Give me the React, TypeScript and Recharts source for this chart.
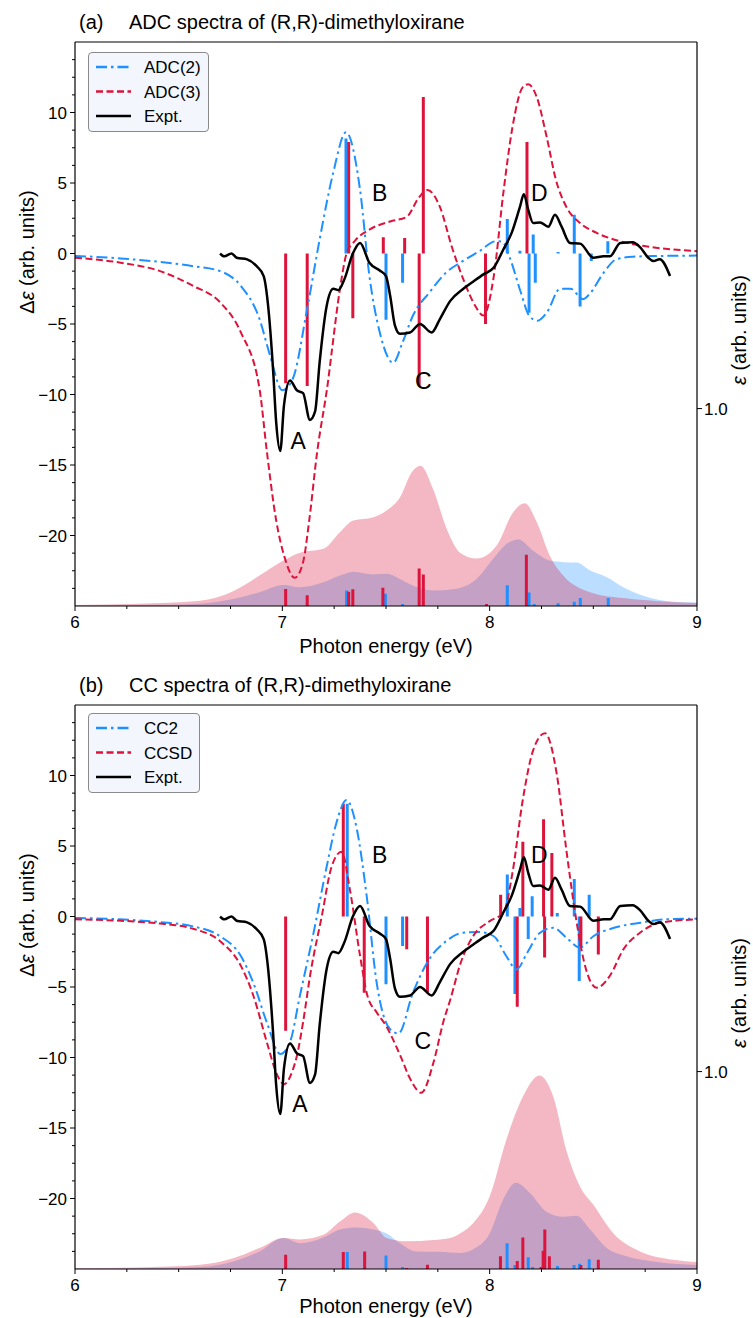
import React from 'react';
import { ComposedChart, Line, Area, XAxis, YAxis, ReferenceLine, ReferenceDot } from 'recharts';

const BLUE = '#1e90ff';
const RED = '#dc143c';
const FONT = "'Liberation Sans', Arial, Helvetica, sans-serif";

// axis ticks
const xTicks = [6, 6.25, 6.5, 6.75, 7, 7.25, 7.5, 7.75, 8, 8.25, 8.5, 8.75, 9];
const yTicks = [-23.75, -22.5, -21.25, -20, -18.75, -17.5, -16.25, -15, -13.75, -12.5, -11.25, -10, -8.75, -7.5, -6.25, -5,
  -3.75, -2.5, -1.25, 0, 1.25, 2.5, 3.75, 5, 6.25, 7.5, 8.75, 10, 11.25, 12.5, 13.75];
const rightTicks = [1];

// experiment (same in both panels)
const exptE = [6.7, 6.72, 6.755, 6.78, 6.83, 6.876, 6.91, 6.93, 6.956, 6.97, 6.99, 7.008, 7.037, 7.07, 7.1, 7.133, 7.158, 7.18, 7.214, 7.246,
  7.27, 7.3, 7.34, 7.375, 7.42, 7.47, 7.5, 7.52, 7.543, 7.567, 7.616, 7.664, 7.72, 7.76, 7.81, 7.873, 7.92, 7.97, 8.02, 8.066,
  8.106, 8.146, 8.165, 8.186, 8.21, 8.243, 8.283, 8.315, 8.347, 8.387, 8.436, 8.5, 8.55, 8.58, 8.63, 8.69, 8.725, 8.765, 8.79, 8.82, 8.87];
const exptVal = [0.0, -0.2, 0.0, -0.3, -0.42, -0.9, -1.6, -3.5, -8.4, -11.9, -14.0, -10.75, -9.0, -9.7, -9.9, -11.8, -11.2, -7.7, -3.7, -2.5,
  -2.6, -1.8, 0.0, 0.75, -0.66, -1.2, -1.6, -3.0, -5.1, -5.7, -5.6, -5.0, -5.6, -4.65, -3.36, -2.5, -2.0, -1.48, -1.0, 0.28,
  1.46, 3.3, 4.2, 3.1, 2.16, 2.2, 1.9, 2.75, 1.9, 0.75, 0.7, -0.3, -0.2, -0.2, 0.75, 0.8, 0.45, -0.3, -0.54, -0.4, -1.6];

// (a) ADC curves
const adc2E = [6.0, 6.22, 6.41, 6.57, 6.7, 6.8, 6.89, 6.94, 7.0, 7.05, 7.12, 7.18, 7.245, 7.307, 7.375, 7.42, 7.47, 7.535, 7.58, 7.63,
  7.71, 7.79, 7.87, 7.95, 8.03, 8.06, 8.1, 8.15, 8.19, 8.23, 8.275, 8.34, 8.39, 8.45, 8.48, 8.55, 8.61, 8.69, 8.8, 9.0];
const adc2Val = [-0.17, -0.35, -0.6, -0.9, -1.25, -2.3, -4.65, -7.2, -9.7, -8.9, -3.9, 1.0, 5.7, 8.6, 4.5, -1.6, -5.6, -7.75, -6.3, -4.4,
  -2.75, -1.35, -0.54, 0.16, 0.87, 0.85, -0.42, -2.75, -4.4, -4.77, -4.2, -2.5, -2.5, -3.24, -2.9, -1.36, -0.42, -0.23, -0.18, -0.15];
const adc3E = [6.0, 6.22, 6.41, 6.57, 6.7, 6.8, 6.89, 6.925, 6.97, 7.01, 7.06, 7.1, 7.13, 7.166, 7.222, 7.238, 7.278, 7.31, 7.35, 7.42,
  7.52, 7.6, 7.66, 7.7, 7.76, 7.817, 7.873, 7.93, 7.97, 8.02, 8.066, 8.11, 8.16, 8.186, 8.227, 8.275, 8.32, 8.37, 8.436, 8.516,
  8.63, 8.76, 9.0];
const adc3Val = [-0.3, -0.65, -1.25, -2.3, -3.46, -5.6, -9.6, -14.0, -18.9, -21.5, -23.0, -21.9, -18.9, -14.3, -8.9, -7.0, -2.5, 0.0, 0.9, 1.7,
  2.27, 2.6, 4.0, 4.5, 3.3, 0.5, -1.83, -3.7, -4.4, -1.6, 4.3, 8.96, 11.8, 12.0, 11.1, 8.26, 5.2, 3.3, 2.16, 1.46,
  0.87, 0.5, 0.16];

// (a) sticks: rotatory strengths (top) and oscillator strengths (bottom)
const adc2RotE = [7.307, 7.5, 7.58, 8.085, 8.146, 8.19, 8.21, 8.22, 8.33, 8.408, 8.436, 8.49, 8.57];
const adc2Rot = [8.15, -4.7, -2.07, 2.44, 0.2, -4.2, 1.34, -2.07, 0.1, 2.75, -3.75, -0.54, 0.87];
const adc3RotE = [7.016, 7.12, 7.32, 7.34, 7.487, 7.59, 7.66, 7.68, 7.98, 8.18];
const adc3Rot = [-9.2, -9.4, 7.9, -4.6, 1.15, 1.1, -9.4, 11.1, -5.0, 7.9];
const adc2OscE = [7.31, 7.497, 7.58, 8.085, 8.19, 8.215, 8.33, 8.408, 8.437, 8.572];
const adc2Osc = [0.078, 0.062, 0.01, 0.105, 0.068, 0.01, 0.014, 0.022, 0.04, 0.04];
const adc3OscE = [7.016, 7.12, 7.32, 7.34, 7.485, 7.66, 7.68, 7.985, 8.177];
const adc3Osc = [0.086, 0.055, 0.072, 0.085, 0.093, 0.19, 0.16, 0.01, 0.26];

// (a) absorption envelopes
const adc2AbsE = [6.0, 6.4, 6.603, 6.763, 6.89, 7.005, 7.085, 7.198, 7.278, 7.342, 7.44, 7.503, 7.567, 7.616, 7.728, 7.825, 7.937, 8.018, 8.082, 8.138,
  8.21, 8.29, 8.355, 8.42, 8.484, 8.565, 8.645, 8.74, 8.886, 9.0];
const adc2Abs = [0.002, 0.006, 0.012, 0.036, 0.07, 0.107, 0.095, 0.12, 0.154, 0.174, 0.16, 0.163, 0.137, 0.11, 0.078, 0.085, 0.137, 0.24, 0.315, 0.337,
  0.28, 0.23, 0.222, 0.22, 0.18, 0.146, 0.095, 0.052, 0.022, 0.018];
const adc3AbsE = [6.0, 6.3, 6.603, 6.763, 6.89, 7.005, 7.085, 7.198, 7.278, 7.342, 7.44, 7.503, 7.567, 7.626, 7.666, 7.728, 7.793, 7.857, 7.937, 8.034,
  8.114, 8.17, 8.227, 8.29, 8.355, 8.484, 8.645, 8.8, 9.0];
const adc3Abs = [0.005, 0.012, 0.027, 0.075, 0.154, 0.23, 0.27, 0.29, 0.374, 0.433, 0.45, 0.484, 0.55, 0.68, 0.71, 0.59, 0.39, 0.27, 0.24, 0.306,
  0.476, 0.52, 0.425, 0.255, 0.154, 0.07, 0.04, 0.025, 0.015];

// (b) CC curves
const cc2E = [6.0, 6.41, 6.57, 6.7, 6.8, 6.86, 6.925, 6.99, 7.037, 7.085, 7.15, 7.214, 7.26, 7.31, 7.36, 7.407, 7.455, 7.52, 7.56, 7.63,
  7.71, 7.79, 7.87, 7.95, 8.02, 8.08, 8.13, 8.18, 8.243, 8.307, 8.37, 8.436, 8.5, 8.6, 8.725, 8.85, 9.0];
const cc2Val = [-0.1, -0.4, -0.7, -1.4, -2.8, -4.7, -7.5, -9.75, -8.9, -5.6, -1.2, 3.55, 6.6, 8.26, 6.15, 1.43, -4.7, -8.0, -8.3, -5.4,
  -3.0, -1.75, -1.15, -1.1, -1.4, -2.8, -3.75, -2.6, -1.15, -0.8, -1.5, -2.2, -1.4, -0.8, -0.45, -0.2, -0.15];
const ccsdE = [6.0, 6.41, 6.57, 6.7, 6.8, 6.86, 6.925, 6.97, 7.008, 7.05, 7.07, 7.1, 7.136, 7.19, 7.238, 7.286, 7.326, 7.375, 7.41, 7.455,
  7.5, 7.57, 7.616, 7.67, 7.73, 7.776, 7.81, 7.86, 7.92, 8.0, 8.066, 8.11, 8.16, 8.21, 8.267, 8.323, 8.37, 8.42, 8.46, 8.516,
  8.58, 8.645, 8.725, 8.82, 9.0];
const ccsdVal = [-0.2, -0.5, -0.87, -1.75, -3.5, -5.6, -8.9, -11.05, -11.9, -10.9, -9.9, -7.5, -4.0, 0.0, 3.55, 4.6, 1.9, -2.8, -5.6, -6.8,
  -7.75, -9.9, -11.5, -12.5, -10.3, -7.5, -5.9, -3.3, -1.4, -0.33, 0.26, 3.1, 8.3, 11.8, 13.0, 10.15, 4.7, -0.45, -3.5, -5.05,
  -4.2, -2.33, -1.15, -0.45, -0.2];

// (b) sticks
const cc2RotE = [7.313, 7.5, 7.58, 8.085, 8.122, 8.146, 8.186, 8.205, 8.326, 8.408, 8.432, 8.48];
const cc2Rot = [8.0, -4.8, -2.1, 2.97, -5.5, 0.6, -1.6, 1.43, 0.25, 2.66, -4.57, 1.55];
const ccsdRotE = [7.016, 7.294, 7.395, 7.6, 7.7, 8.053, 8.133, 8.16, 8.26, 8.265, 8.3, 8.44, 8.524];
const ccsdRot = [-8.1, 8.0, -5.4, -2.33, -5.4, 1.55, -6.4, 5.3, 6.9, -2.9, 4.5, -2.1, -2.7];
const cc2OscE = [7.313, 7.5, 7.58, 8.084, 8.122, 8.186, 8.207, 8.327, 8.407, 8.433, 8.48];
const cc2Osc = [0.086, 0.069, 0.01, 0.131, 0.02, 0.059, 0.01, 0.015, 0.02, 0.027, 0.05];
const ccsdOscE = [7.016, 7.294, 7.397, 7.6, 7.7, 8.052, 8.133, 8.16, 8.248, 8.258, 8.266, 8.288, 8.44, 8.524];
const ccsdOsc = [0.072, 0.086, 0.089, 0.005, 0.022, 0.064, 0.04, 0.16, 0.01, 0.093, 0.2, 0.064, 0.02, 0.047];

// (b) absorption envelopes
const cc2AbsE = [6.0, 6.4, 6.603, 6.763, 6.89, 7.005, 7.085, 7.198, 7.278, 7.36, 7.44, 7.503, 7.567, 7.647, 7.76, 7.857, 7.92, 8.0, 8.064, 8.127,
  8.195, 8.274, 8.355, 8.42, 8.484, 8.565, 8.66, 8.81, 9.0];
const cc2Abs = [0.002, 0.005, 0.01, 0.038, 0.089, 0.157, 0.131, 0.16, 0.2, 0.21, 0.2, 0.18, 0.131, 0.089, 0.087, 0.081, 0.1, 0.18, 0.35, 0.437,
  0.384, 0.29, 0.265, 0.27, 0.2, 0.106, 0.064, 0.035, 0.02];
const ccsdAbsE = [6.0, 6.3, 6.603, 6.763, 6.89, 7.005, 7.085, 7.198, 7.278, 7.35, 7.44, 7.503, 7.6, 7.73, 7.81, 7.857, 7.92, 8.0, 8.08, 8.16,
  8.24, 8.307, 8.37, 8.436, 8.5, 8.597, 8.725, 8.886, 9.0];
const ccsdAbs = [0.004, 0.008, 0.022, 0.055, 0.106, 0.157, 0.15, 0.173, 0.24, 0.286, 0.232, 0.157, 0.14, 0.147, 0.157, 0.18, 0.232, 0.367, 0.653, 0.872,
  0.98, 0.872, 0.6, 0.417, 0.325, 0.18, 0.089, 0.047, 0.035];

// peak letters
const labelsA = [{ t: 'A', x: 7.076, y: -13.3 }, { t: 'B', x: 7.47, y: 4.3 }, { t: 'C', x: 7.68, y: -9.0 }, { t: 'D', x: 8.24, y: 4.3 }];
const labelsB = [{ t: 'A', x: 7.085, y: -13.3 }, { t: 'B', x: 7.47, y: 4.4 }, { t: 'C', x: 7.677, y: -8.8 }, { t: 'D', x: 8.24, y: 4.4 }];

const curve = (xs: number[], ys: number[]) => xs.map((x, i) => ({ x, y: ys[i] }));
const sticks = (xs: number[], ys: number[]) => xs.flatMap((x, i) => [{ x, y: 0 }, { x, y: ys[i] }, { x, y: null }]);

const fmt = (v: number) => (v < 0 ? '\u2212' + Math.abs(v) : String(v));

const XTick = (props: any) => {
  const { x, y, payload } = props;
  const v = payload.value;
  const major = Math.abs(v - Math.round(v)) < 1e-6;
  return (
    <g>
      <line x1={x} x2={x} y1={y} y2={y + (major ? 5 : 3)} stroke="#000" strokeWidth={1} />
      {major && <text x={x} y={y + 22} textAnchor="middle" fontSize={17} fill="#000">{v}</text>}
    </g>
  );
};

const LeftTick = (props: any) => {
  const { x, y, payload } = props;
  const v = payload.value;
  const major = Math.abs(v % 5) < 1e-6;
  return (
    <g>
      <line x1={x - (major ? 5 : 3)} x2={x} y1={y} y2={y} stroke="#000" strokeWidth={1} />
      {major && <text x={x - 8} y={y} dy="0.36em" textAnchor="end" fontSize={17} fill="#000">{fmt(v)}</text>}
    </g>
  );
};

const RightTick = (props: any) => {
  const { x, y, payload } = props;
  return (
    <g>
      <line x1={x} x2={x + 5} y1={y} y2={y} stroke="#000" strokeWidth={1} />
      <text x={x + 7} y={y} dy="0.36em" textAnchor="start" fontSize={17} fill="#000">{payload.value.toFixed(1)}</text>
    </g>
  );
};

const Legend = ({ top, width, items }: any) => (
  <div style={{ position: 'absolute', left: 88, top, width, height: 80, boxSizing: 'border-box', background: '#f3f7fd', border: '1px solid #8a8a8a', borderRadius: 4 }}>
    <svg width={width - 2} height={78}>
      {items.map((it: any, i: number) => (
        <g key={it.label}>
          <line x1={7} x2={42} y1={14 + i * 24.5} y2={14 + i * 24.5} stroke={it.color} strokeWidth={2.5} strokeDasharray={it.dash} />
          <text x={55} y={14 + i * 24.5} dy="0.36em" fontSize={17} fill="#000">{it.label}</text>
        </g>
      ))}
    </svg>
  </div>
);

function Panel({ top, height, bottom, p }: any) {
  const axisLine = { stroke: '#000', strokeWidth: 1.2 };
  return (
    <div style={{ position: 'absolute', left: 0, top }}>
      <ComposedChart width={753} height={height} margin={{ top: 42, right: 26, bottom, left: 30 }}>
        <XAxis dataKey="x" type="number" domain={[6, 9]} ticks={xTicks} interval={0} allowDataOverflow
          height={30} tickSize={0} tickMargin={0} tickLine={false} tick={XTick} axisLine={axisLine} />
        <YAxis yAxisId="l" type="number" domain={[-25, 15]} ticks={yTicks} interval={0} allowDataOverflow
          width={45} tickSize={0} tickMargin={0} tickLine={false} tick={LeftTick} axisLine={axisLine} />
        <YAxis yAxisId="r" orientation="right" type="number" domain={[0, 2.857]} ticks={rightTicks} interval={0} allowDataOverflow
          width={30} tickSize={0} tickMargin={0} tickLine={false} tick={RightTick} axisLine={axisLine} />
        <ReferenceLine yAxisId="l" y={15} stroke="#000" strokeWidth={1.2} />

        <Area yAxisId="r" data={p.blueAbs} dataKey="y" type="monotone" fill={BLUE} fillOpacity={0.3} stroke="none" isAnimationActive={false} />
        <Line yAxisId="r" data={p.blueOsc} dataKey="y" type="linear" stroke={BLUE} strokeWidth={3} dot={false} activeDot={false} isAnimationActive={false} />
        <Area yAxisId="r" data={p.redAbs} dataKey="y" type="monotone" fill={RED} fillOpacity={0.3} stroke="none" isAnimationActive={false} />
        <Line yAxisId="r" data={p.redOsc} dataKey="y" type="linear" stroke={RED} strokeWidth={3} dot={false} activeDot={false} isAnimationActive={false} />

        <Line yAxisId="l" data={p.blueRot} dataKey="y" type="linear" stroke={BLUE} strokeWidth={3} dot={false} activeDot={false} isAnimationActive={false} />
        <Line yAxisId="l" data={p.redRot} dataKey="y" type="linear" stroke={RED} strokeWidth={3} dot={false} activeDot={false} isAnimationActive={false} />

        <Line yAxisId="l" data={p.blue} dataKey="y" type="monotone" stroke={BLUE} strokeWidth={2} strokeDasharray="11 4 2.5 4" dot={false} activeDot={false} isAnimationActive={false} />
        <Line yAxisId="l" data={p.red} dataKey="y" type="monotone" stroke={RED} strokeWidth={2} strokeDasharray="7 3.5" dot={false} activeDot={false} isAnimationActive={false} />
        <Line yAxisId="l" data={p.expt} dataKey="y" type="monotone" stroke="#000" strokeWidth={2.5} dot={false} activeDot={false} isAnimationActive={false} />

        {p.letters.map((l: any) => (
          <ReferenceDot key={l.t} yAxisId="l" x={l.x} y={l.y} r={0} fill="none" stroke="none"
            label={{ value: l.t, position: 'center', fontSize: 23, fill: '#000' }} />
        ))}
      </ComposedChart>
    </div>
  );
}

const panelA = {
  blue: curve(adc2E, adc2Val), red: curve(adc3E, adc3Val), expt: curve(exptE, exptVal),
  blueRot: sticks(adc2RotE, adc2Rot), redRot: sticks(adc3RotE, adc3Rot),
  blueOsc: sticks(adc2OscE, adc2Osc), redOsc: sticks(adc3OscE, adc3Osc),
  blueAbs: curve(adc2AbsE, adc2Abs), redAbs: curve(adc3AbsE, adc3Abs), letters: labelsA,
};
const panelB = {
  blue: curve(cc2E, cc2Val), red: curve(ccsdE, ccsdVal), expt: curve(exptE, exptVal),
  blueRot: sticks(cc2RotE, cc2Rot), redRot: sticks(ccsdRotE, ccsdRot),
  blueOsc: sticks(cc2OscE, cc2Osc), redOsc: sticks(ccsdOscE, ccsdOsc),
  blueAbs: curve(cc2AbsE, cc2Abs), redAbs: curve(ccsdAbsE, ccsdAbs), letters: labelsB,
};

const DASH2 = '11 4 2.5 4';
const DASH3 = '7 3.5';

export default function App() {
  const dy = 663;
  return (
    <div style={{ position: 'absolute', left: 0, top: 0, width: 753, height: 1318, overflow: 'hidden', background: '#fff', fontFamily: FONT }}>
      <Panel top={0} height={664} bottom={28} p={panelA} />
      <Panel top={dy} height={655} bottom={19} p={panelB} />

      <Legend top={52} width={121} items={[
        { label: 'ADC(2)', color: BLUE, dash: DASH2 },
        { label: 'ADC(3)', color: RED, dash: DASH3 },
        { label: 'Expt.', color: '#000', dash: undefined },
      ]} />
      <Legend top={713} width={112} items={[
        { label: 'CC2', color: BLUE, dash: DASH2 },
        { label: 'CCSD', color: RED, dash: DASH3 },
        { label: 'Expt.', color: '#000', dash: undefined },
      ]} />

      <svg width={753} height={1318} style={{ position: 'absolute', left: 0, top: 0, pointerEvents: 'none' }}>
        {[0, dy].map((o, i) => (
          <g key={o} fill="#000">
            <text x={79} y={29 + o} fontSize={20}>{i === 0 ? '(a)' : '(b)'}</text>
            <text x={129} y={29 + o} fontSize={20}>{i === 0 ? 'ADC spectra of (R,R)-dimethyloxirane' : 'CC spectra of (R,R)-dimethyloxirane'}</text>
            <text x={386} y={i === 0 ? 653 : 1313} textAnchor="middle" fontSize={20}>Photon energy (eV)</text>
            <text transform={`translate(34,${252 + o}) rotate(-90)`} textAnchor="middle" fontSize={20}>
              Δ<tspan fontStyle="italic">ε</tspan> (arb. units)
            </text>
            <text transform={`translate(746,${330 + o}) rotate(-90)`} textAnchor="middle" fontSize={20}>
              <tspan fontStyle="italic">ε</tspan> (arb. units)
            </text>
          </g>
        ))}
      </svg>
    </div>
  );
}
